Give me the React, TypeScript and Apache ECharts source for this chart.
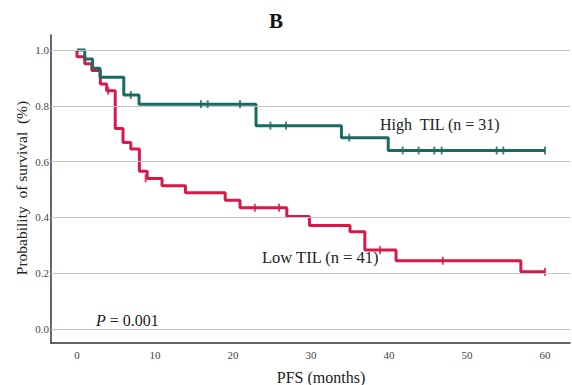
import React, { useEffect, useRef } from "react";
import * as echarts from "echarts";

const xTicks = [0, 10, 20, 30, 40, 50, 60];
const yTicks = [0, 0.2, 0.4, 0.6, 0.8, 1.0];

// High TIL (n = 31): [time, survival after step]
const highSteps: number[][] = [
  [0, 1], [1, 0.968], [2, 0.935], [2.95, 0.903], [6, 0.839], [7.95, 0.806],
  [22.95, 0.729], [33.9, 0.686], [39.9, 0.64], [60, 0.64],
];
const highCensor: number[][] = [
  [6.9, 0.839], [15.9, 0.806], [16.75, 0.806], [20.9, 0.806], [24.8, 0.729],
  [26.8, 0.729], [34.9, 0.686], [41.75, 0.64], [43.8, 0.64], [45.8, 0.64],
  [46.75, 0.64], [53.8, 0.64], [54.65, 0.64], [60, 0.64],
];

// Low TIL (n = 41)
const lowSteps: number[][] = [
  [0, 1], [0, 0.976], [1, 0.951], [1.9, 0.927], [3, 0.878], [3.8, 0.854],
  [4.9, 0.719], [5.9, 0.669], [6.9, 0.645], [8, 0.566], [9, 0.54],
  [10.9, 0.514], [13.9, 0.489], [19, 0.462], [20.9, 0.435], [26.9, 0.403],
  [29.8, 0.371], [35, 0.349], [36.9, 0.283], [40.9, 0.245], [56.9, 0.205],
  [60, 0.205],
];
const lowCensor: number[][] = [
  [4, 0.854], [8.8, 0.54], [22.8, 0.435], [25.9, 0.435], [38.85, 0.283],
  [46.9, 0.245], [60, 0.205],
];

const GREEN = "#1b6a62";
const RED = "#d81848";
const FONT = "'Liberation Serif', 'Times New Roman', serif";

export default function App() {
  const ref = useRef<HTMLDivElement>(null);
  useEffect(() => {
    if (!ref.current) return;
    const chart = echarts.init(ref.current, undefined, { renderer: "svg" });
    chart.setOption({
      animation: false,
      backgroundColor: "#ffffff",
      grid: { left: 51, right: 2, top: 35, bottom: 42, outerBoundsMode: "none" },
      xAxis: {
        type: "value",
        min: -3.33,
        max: 63.2,
        axisLine: { show: true, onZero: false, lineStyle: { color: "#333", width: 1.5 } },
        axisTick: { show: false },
        splitLine: { show: false },
        axisLabel: {
          customValues: xTicks,
          color: "#444",
          fontFamily: FONT,
          fontSize: 11,
          margin: 6,
        },
      },
      yAxis: {
        type: "value",
        min: -0.05,
        max: 1.054,
        axisLine: { show: true, onZero: false, lineStyle: { color: "#333", width: 1.5 } },
        axisTick: { show: false },
        splitLine: { show: false },
        axisLabel: {
          customValues: yTicks,
          formatter: (v: number) => v.toFixed(1),
          color: "#444",
          fontFamily: FONT,
          fontSize: 11,
          margin: 2,
        },
      },
      series: [
        {
          type: "line",
          data: [],
          z: 1,
          markLine: {
            silent: true,
            symbol: "none",
            label: { show: false },
            lineStyle: { color: "#c4c4c4", type: "solid", width: 1 },
            data: yTicks.map((v) => ({ yAxis: v })),
          },
        },
        {
          type: "line",
          step: "end",
          data: lowSteps,
          showSymbol: false,
          lineStyle: { color: RED, width: 3 },
          itemStyle: { color: RED },
          z: 2,
        },
        {
          type: "scatter",
          data: lowCensor,
          symbol: "rect",
          symbolSize: [2, 8],
          itemStyle: { color: RED },
          z: 3,
        },
        {
          type: "line",
          step: "end",
          data: highSteps,
          showSymbol: false,
          lineStyle: { color: GREEN, width: 3 },
          itemStyle: { color: GREEN },
          z: 4,
        },
        {
          type: "scatter",
          data: highCensor,
          symbol: "rect",
          symbolSize: [2, 8],
          itemStyle: { color: GREEN },
          z: 5,
        },
      ],
      graphic: [
        {
          type: "text",
          x: 276,
          y: 21,
          style: {
            text: "B",
            font: `bold 21px ${FONT}`,
            fill: "#111",
            align: "center",
            verticalAlign: "middle",
          },
        },
        {
          type: "text",
          x: 21,
          y: 188,
          rotation: Math.PI / 2,
          style: {
            text: "Probability  of survival  (%)",
            font: `15.5px ${FONT}`,
            fill: "#222",
            align: "center",
            verticalAlign: "middle",
          },
        },
        {
          type: "text",
          x: 321,
          y: 377,
          style: {
            text: "PFS (months)",
            font: `16px ${FONT}`,
            fill: "#222",
            align: "center",
            verticalAlign: "middle",
          },
        },
        {
          type: "text",
          x: 380,
          y: 124,
          style: {
            text: "High  TIL (n = 31)",
            font: `16px ${FONT}`,
            fill: "#222",
            align: "left",
            verticalAlign: "middle",
          },
        },
        {
          type: "text",
          x: 262,
          y: 257,
          style: {
            text: "Low TIL (n = 41)",
            font: `16.5px ${FONT}`,
            fill: "#222",
            align: "left",
            verticalAlign: "middle",
          },
        },
        {
          type: "text",
          x: 96,
          y: 320,
          style: {
            text: "{i|P} = 0.001",
            font: `16px ${FONT}`,
            fill: "#222",
            align: "left",
            verticalAlign: "middle",
            rich: {
              i: { fontStyle: "italic", fontFamily: FONT, fontSize: 16, fill: "#222" },
            },
          },
        },
      ],
    });
    return () => chart.dispose();
  }, []);
  return (
    <div
      ref={ref}
      style={{ position: "fixed", left: 0, top: 0, width: 572, height: 385 }}
    />
  );
}
